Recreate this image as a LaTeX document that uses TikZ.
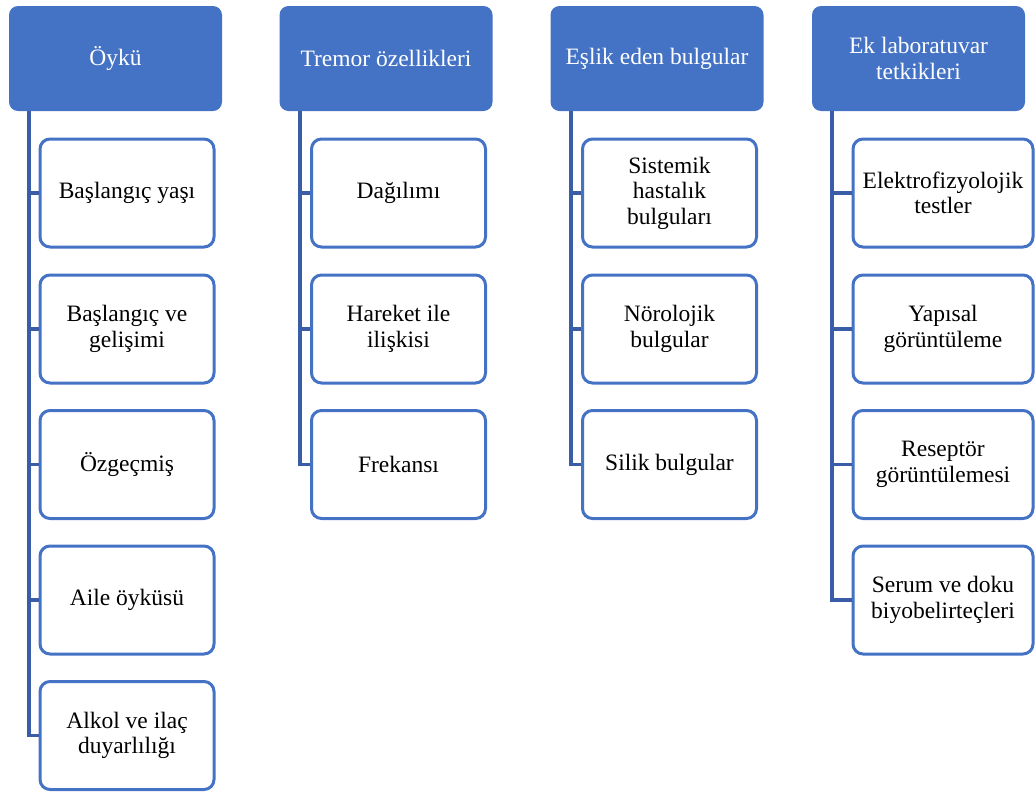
\documentclass[tikz,border=0pt]{standalone}
\usepackage{fontspec}
\setmainfont{Liberation Serif}
\usepackage{xcolor}
\usetikzlibrary{positioning}

\definecolor{hdrblue}{HTML}{4472C4}
\definecolor{lineblue}{HTML}{3A5DA8}

\begin{document}
\begin{tikzpicture}[x=1pt, y=-1pt, font=\fontsize{23.5}{25.5}\selectfont]
		\tikzstyle{header} = [fill=hdrblue, draw=none, rectangle, rounded corners=9pt, minimum width=213pt, minimum height=105pt, align=center, text=white]
		\tikzstyle{item} = [fill=white, draw=hdrblue, line width=3pt, rectangle, rounded corners=10pt, minimum width=174pt, minimum height=108pt, align=center, text=black]
		\tikzstyle{itemw} = [item, minimum width=180pt]
		\tikzstyle{link} = [draw=lineblue, line width=3.2pt]
		
		\useasboundingbox (0,0) rectangle (1036,793);
		
		\node[header]	at (115.5, 58.5)	(h1)	{Öykü};
		\node[header]	at (386, 58.5)		(h2)	{Tremor özellikleri};
		\node[header]	at (657, 58.5)		(h3)	{Eşlik eden bulgular};
		\node[header]	at (918.5, 58.5)	(h4)	{Ek laboratuvar\\tetkikleri};
		
		\coordinate (t1) at (29, 111);
		\coordinate (t2) at (300, 111);
		\coordinate (t3) at (571, 111);
		\coordinate (t4) at (832, 111);
		
		\node[item]		at (127, 193)		(a1)	{Başlangıç yaşı};
		\node[item]		at (127, 329)		(a2)	{Başlangıç ve\\gelişimi};
		\node[item]		at (127, 464.5)		(a3)	{Özgeçmiş};
		\node[item]		at (127, 600)		(a4)	{Aile öyküsü};
		\node[item]		at (127, 735.5)		(a5)	{Alkol ve ilaç\\duyarlılığı};
		
		\node[item]		at (398.5, 193)		(b1)	{Dağılımı};
		\node[item]		at (398.5, 329)		(b2)	{Hareket ile\\ilişkisi};
		\node[item]		at (398.5, 464.5)	(b3)	{Frekansı};
		
		\node[item]		at (669.5, 193)		(c1)	{Sistemik\\hastalık\\bulguları};
		\node[item]		at (669.5, 329)		(c2)	{Nörolojik\\bulgular};
		\node[item]		at (669.5, 464.5)	(c3)	{Silik bulgular};
		
		\node[itemw]	at (943, 193)		(d1)	{Elektrofizyolojik\\testler};
		\node[itemw]	at (943, 329)		(d2)	{Yapısal\\görüntüleme};
		\node[itemw]	at (943, 464.5)		(d3)	{Reseptör\\görüntülemesi};
		\node[itemw]	at (943, 600)		(d4)	{Serum ve doku\\biyobelirteçleri};
		
		\draw [link] (t1) |- (a1.west);
		\draw [link] (t1) |- (a2.west);
		\draw [link] (t1) |- (a3.west);
		\draw [link] (t1) |- (a4.west);
		\draw [link] (t1) |- (a5.west);
		
		\draw [link] (t2) |- (b1.west);
		\draw [link] (t2) |- (b2.west);
		\draw [link] (t2) |- (b3.west);
		
		\draw [link] (t3) |- (c1.west);
		\draw [link] (t3) |- (c2.west);
		\draw [link] (t3) |- (c3.west);
		
		\draw [link] (t4) |- (d1.west);
		\draw [link] (t4) |- (d2.west);
		\draw [link] (t4) |- (d3.west);
		\draw [link] (t4) |- (d4.west);
		
	\end{tikzpicture}
\end{document}
